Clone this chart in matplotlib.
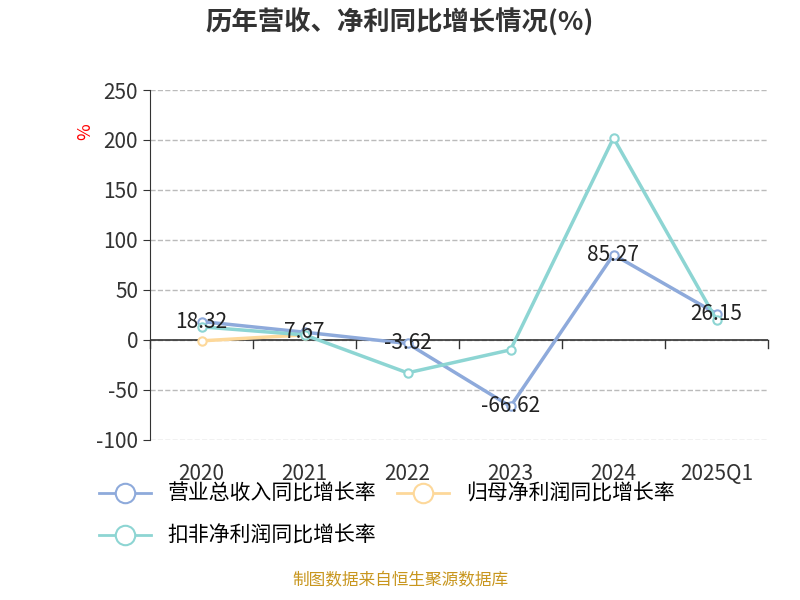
import matplotlib.pyplot as plt
from matplotlib.lines import Line2D

plt.rcParams['font.family'] = ['Noto Sans CJK SC', 'DejaVu Sans']
plt.rcParams['axes.unicode_minus'] = False

years = ['2020', '2021', '2022', '2023', '2024', '2025Q1']
revenue = [18.32, 7.67, -3.62, -66.62, 85.27, 26.15]
net_profit = [-1.0, 5.0, None, None, None, None]
deducted = [13.0, 5.0, -33.0, -10.0, 202.0, 20.0]
names = ['营业总收入同比增长率', '归母净利润同比增长率', '扣非净利润同比增长率']
colors = ['#8eaadb', '#fdd89a', '#8dd5d3']

fig = plt.figure(figsize=(8, 6), dpi=100)
ax = fig.add_axes([0.1875, 0.267, 0.7725, 0.583])
x = list(range(len(years)))

for vals, c in zip([revenue, net_profit, deducted], colors):
    xs = [i for i, v in zip(x, vals) if v is not None]
    ys = [v for v in vals if v is not None]
    ax.plot(xs, ys, color=c, lw=2.5, marker='o', ms=6, mfc='white', mew=1.5, zorder=3)

for i, v in enumerate(revenue):
    ax.text(i, v, f'{v:.2f}', ha='center', va='center', fontsize=15, color='#222222', zorder=5)

ax.set_xlim(-0.5, 5.5)
ax.set_ylim(-100, 250)
ax.set_yticks(range(-100, 251, 50))
ax.set_xticks(x)
ax.set_xticklabels(years)
ax.tick_params(axis='both', labelsize=15, colors='#333333', length=5)
ax.tick_params(axis='x', pad=12)
ax.grid(axis='y', ls='--', color='#bbbbbb', lw=1)
for s in ['top', 'right', 'bottom']:
    ax.spines[s].set_visible(False)
ax.spines['left'].set_color('#333333')
ax.axhline(0, color='#333333', lw=1.2)
ax.xaxis.set_ticks_position('none')
for xm in [i + 0.5 for i in range(-1, 6)]:
    ax.plot([xm, xm], [0, -8], color='#333333', lw=1, clip_on=False)
ax.text(-0.105, 0.88, '%', transform=ax.transAxes, color='red', fontsize=13,
        rotation=90, ha='center', va='center')

fig.text(0.5, 0.962, '历年营收、净利同比增长情况(%)', ha='center', va='center',
         fontsize=19, fontweight='bold', color='#333333')

handles = [Line2D([], [], color=c, lw=2, marker='o', ms=14, mfc='white', mew=1.5) for c in colors]
fig.legend(handles[:2], names[:2], loc='center left', bbox_to_anchor=(0.1, 0.177), ncol=2,
           frameon=False, fontsize=15, handlelength=2.5, columnspacing=1.0)
fig.legend(handles[2:], names[2:], loc='center left', bbox_to_anchor=(0.1, 0.107),
           frameon=False, fontsize=15, handlelength=2.5)

fig.text(0.5, 0.018, '制图数据来自恒生聚源数据库', ha='center', va='bottom', fontsize=12, color='#c8961e')
fig.savefig('out.png')
